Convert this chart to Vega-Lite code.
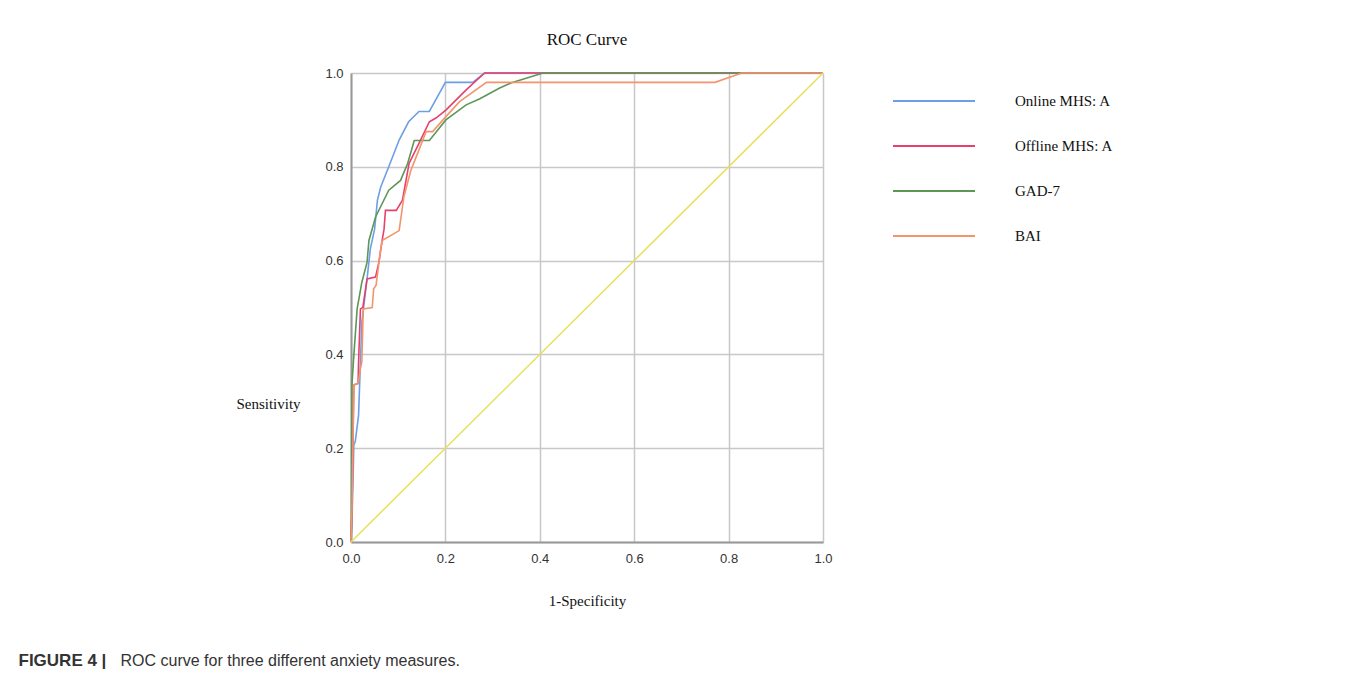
{
  "$schema": "https://vega.github.io/schema/vega-lite/v6.json",
  "width": 472,
  "height": 469,
  "autosize": {"type": "none"},
  "padding": {"left": 351, "top": 73, "right": 535, "bottom": 139},
  "background": "white",
  "title": {"text": "ROC Curve", "font": "Liberation Serif", "fontSize": 17, "fontWeight": "normal", "color": "#111", "anchor": "middle", "offset": 17, "dy": -1},
  "config": {
    "view": {"stroke": null},
    "axis": {"labelFont": "Liberation Sans", "labelFontSize": 13, "labelColor": "#333", "titleFont": "Liberation Serif", "titleFontSize": 15, "titleFontWeight": "normal", "titleColor": "#111", "gridColor": "#c8c8c8", "gridWidth": 1.5, "domainColor": "#999", "domainWidth": 2, "ticks": false, "labelOverlap": false, "labelFlush": false}
  },
  "resolve": {"axis": {"x": "independent", "y": "independent"}},
  "layer": [
    {
      "data": {"values": [
        {"series": "Online MHS: A", "i": 0, "x": 0, "y": 0},
        {"series": "Online MHS: A", "i": 1, "x": 0.002, "y": 0.044},
        {"series": "Online MHS: A", "i": 2, "x": 0.004, "y": 0.12},
        {"series": "Online MHS: A", "i": 3, "x": 0.006, "y": 0.207},
        {"series": "Online MHS: A", "i": 4, "x": 0.009, "y": 0.214},
        {"series": "Online MHS: A", "i": 5, "x": 0.016, "y": 0.27},
        {"series": "Online MHS: A", "i": 6, "x": 0.02, "y": 0.384},
        {"series": "Online MHS: A", "i": 7, "x": 0.023, "y": 0.469},
        {"series": "Online MHS: A", "i": 8, "x": 0.034, "y": 0.561},
        {"series": "Online MHS: A", "i": 9, "x": 0.041, "y": 0.625},
        {"series": "Online MHS: A", "i": 10, "x": 0.05, "y": 0.667},
        {"series": "Online MHS: A", "i": 11, "x": 0.056, "y": 0.729},
        {"series": "Online MHS: A", "i": 12, "x": 0.063, "y": 0.757},
        {"series": "Online MHS: A", "i": 13, "x": 0.08, "y": 0.8},
        {"series": "Online MHS: A", "i": 14, "x": 0.102, "y": 0.857},
        {"series": "Online MHS: A", "i": 15, "x": 0.122, "y": 0.896},
        {"series": "Online MHS: A", "i": 16, "x": 0.144, "y": 0.918},
        {"series": "Online MHS: A", "i": 17, "x": 0.166, "y": 0.918},
        {"series": "Online MHS: A", "i": 18, "x": 0.2, "y": 0.98},
        {"series": "Online MHS: A", "i": 19, "x": 0.258, "y": 0.98},
        {"series": "Online MHS: A", "i": 20, "x": 0.283, "y": 1.0},
        {"series": "Online MHS: A", "i": 21, "x": 1, "y": 1},
        {"series": "Offline MHS: A", "i": 0, "x": 0, "y": 0},
        {"series": "Offline MHS: A", "i": 1, "x": 0.002, "y": 0.066},
        {"series": "Offline MHS: A", "i": 2, "x": 0.004, "y": 0.2},
        {"series": "Offline MHS: A", "i": 3, "x": 0.006, "y": 0.335},
        {"series": "Offline MHS: A", "i": 4, "x": 0.015, "y": 0.338},
        {"series": "Offline MHS: A", "i": 5, "x": 0.016, "y": 0.384},
        {"series": "Offline MHS: A", "i": 6, "x": 0.02, "y": 0.497},
        {"series": "Offline MHS: A", "i": 7, "x": 0.025, "y": 0.5},
        {"series": "Offline MHS: A", "i": 8, "x": 0.034, "y": 0.561},
        {"series": "Offline MHS: A", "i": 9, "x": 0.052, "y": 0.565},
        {"series": "Offline MHS: A", "i": 10, "x": 0.059, "y": 0.596},
        {"series": "Offline MHS: A", "i": 11, "x": 0.066, "y": 0.643},
        {"series": "Offline MHS: A", "i": 12, "x": 0.07, "y": 0.667},
        {"series": "Offline MHS: A", "i": 13, "x": 0.073, "y": 0.707},
        {"series": "Offline MHS: A", "i": 14, "x": 0.096, "y": 0.707},
        {"series": "Offline MHS: A", "i": 15, "x": 0.109, "y": 0.729},
        {"series": "Offline MHS: A", "i": 16, "x": 0.123, "y": 0.807},
        {"series": "Offline MHS: A", "i": 17, "x": 0.144, "y": 0.85},
        {"series": "Offline MHS: A", "i": 18, "x": 0.166, "y": 0.896},
        {"series": "Offline MHS: A", "i": 19, "x": 0.18, "y": 0.904},
        {"series": "Offline MHS: A", "i": 20, "x": 0.201, "y": 0.921},
        {"series": "Offline MHS: A", "i": 21, "x": 0.244, "y": 0.964},
        {"series": "Offline MHS: A", "i": 22, "x": 0.283, "y": 1.0},
        {"series": "Offline MHS: A", "i": 23, "x": 1, "y": 1},
        {"series": "GAD-7", "i": 0, "x": 0, "y": 0},
        {"series": "GAD-7", "i": 1, "x": 0.001, "y": 0.044},
        {"series": "GAD-7", "i": 2, "x": 0.002, "y": 0.335},
        {"series": "GAD-7", "i": 3, "x": 0.006, "y": 0.398},
        {"series": "GAD-7", "i": 4, "x": 0.013, "y": 0.497},
        {"series": "GAD-7", "i": 5, "x": 0.023, "y": 0.554},
        {"series": "GAD-7", "i": 6, "x": 0.034, "y": 0.596},
        {"series": "GAD-7", "i": 7, "x": 0.038, "y": 0.643},
        {"series": "GAD-7", "i": 8, "x": 0.052, "y": 0.693},
        {"series": "GAD-7", "i": 9, "x": 0.08, "y": 0.75},
        {"series": "GAD-7", "i": 10, "x": 0.105, "y": 0.771},
        {"series": "GAD-7", "i": 11, "x": 0.12, "y": 0.807},
        {"series": "GAD-7", "i": 12, "x": 0.134, "y": 0.856},
        {"series": "GAD-7", "i": 13, "x": 0.166, "y": 0.856},
        {"series": "GAD-7", "i": 14, "x": 0.201, "y": 0.9},
        {"series": "GAD-7", "i": 15, "x": 0.244, "y": 0.932},
        {"series": "GAD-7", "i": 16, "x": 0.273, "y": 0.945},
        {"series": "GAD-7", "i": 17, "x": 0.315, "y": 0.968},
        {"series": "GAD-7", "i": 18, "x": 0.34, "y": 0.979},
        {"series": "GAD-7", "i": 19, "x": 0.407, "y": 1.0},
        {"series": "GAD-7", "i": 20, "x": 1, "y": 1},
        {"series": "BAI", "i": 0, "x": 0, "y": 0},
        {"series": "BAI", "i": 1, "x": 0.002, "y": 0.066},
        {"series": "BAI", "i": 2, "x": 0.004, "y": 0.2},
        {"series": "BAI", "i": 3, "x": 0.006, "y": 0.335},
        {"series": "BAI", "i": 4, "x": 0.015, "y": 0.338},
        {"series": "BAI", "i": 5, "x": 0.02, "y": 0.37},
        {"series": "BAI", "i": 6, "x": 0.023, "y": 0.384},
        {"series": "BAI", "i": 7, "x": 0.026, "y": 0.497},
        {"series": "BAI", "i": 8, "x": 0.045, "y": 0.5},
        {"series": "BAI", "i": 9, "x": 0.048, "y": 0.54},
        {"series": "BAI", "i": 10, "x": 0.053, "y": 0.547},
        {"series": "BAI", "i": 11, "x": 0.063, "y": 0.625},
        {"series": "BAI", "i": 12, "x": 0.066, "y": 0.643},
        {"series": "BAI", "i": 13, "x": 0.102, "y": 0.664},
        {"series": "BAI", "i": 14, "x": 0.112, "y": 0.736},
        {"series": "BAI", "i": 15, "x": 0.127, "y": 0.793},
        {"series": "BAI", "i": 16, "x": 0.144, "y": 0.836},
        {"series": "BAI", "i": 17, "x": 0.159, "y": 0.875},
        {"series": "BAI", "i": 18, "x": 0.173, "y": 0.875},
        {"series": "BAI", "i": 19, "x": 0.201, "y": 0.907},
        {"series": "BAI", "i": 20, "x": 0.23, "y": 0.939},
        {"series": "BAI", "i": 21, "x": 0.287, "y": 0.98},
        {"series": "BAI", "i": 22, "x": 0.771, "y": 0.98},
        {"series": "BAI", "i": 23, "x": 0.828, "y": 1.0},
        {"series": "BAI", "i": 24, "x": 1, "y": 1}
      ]},
      "mark": {"type": "line", "strokeWidth": 1.6},
      "encoding": {
        "x": {"field": "x", "type": "quantitative", "scale": {"domain": [0, 1]}, "axis": {"orient": "bottom", "grid": true, "title": "1-Specificity", "format": ".1f", "values": [0, 0.2, 0.4, 0.6, 0.8, 1.0], "labelPadding": 10, "titleBaseline": "middle", "titleY": 58}},
        "y": {"field": "y", "type": "quantitative", "scale": {"domain": [0, 1]}, "axis": {"orient": "left", "grid": true, "title": "Sensitivity", "format": ".1f", "values": [0, 0.2, 0.4, 0.6, 0.8, 1.0], "labelPadding": 8, "titleAngle": 0, "titleAlign": "center", "titleBaseline": "middle", "titleX": -83, "titleY": 330}},
        "color": {"field": "series", "type": "nominal", "scale": {"domain": ["Online MHS: A", "Offline MHS: A", "GAD-7", "BAI"], "range": ["#6d9fe4", "#e8406e", "#5e9658", "#f3946c"]}, "legend": {"orient": "none", "legendX": 541, "legendY": 10, "title": null, "symbolType": "stroke", "symbolSize": 6724, "symbolStrokeWidth": 2, "labelFont": "Liberation Serif", "labelFontSize": 15, "labelColor": "#111", "labelOffset": 39, "clipHeight": 36, "rowPadding": 9}},
        "order": {"field": "i", "type": "quantitative"}
      }
    },
    {
      "data": {"values": [{"x": 0, "y": 0}, {"x": 1, "y": 1}]},
      "mark": {"type": "line", "color": "#e8e05a", "strokeWidth": 1.5},
      "encoding": {
        "x": {"field": "x", "type": "quantitative", "scale": {"domain": [0, 1]}, "axis": {"orient": "top", "labels": false, "ticks": false, "domain": false, "grid": false, "title": "FIGURE 4 |", "titleFont": "Liberation Sans", "titleFontWeight": "bold", "titleFontSize": 17, "titleColor": "#333", "titleAlign": "left", "titleBaseline": "middle", "titleX": -333, "titleY": 587}},
        "y": {"field": "y", "type": "quantitative", "scale": {"domain": [0, 1]}, "axis": {"orient": "right", "labels": false, "ticks": false, "domain": false, "grid": false, "title": "ROC curve for three different anxiety measures.", "titleFont": "Liberation Sans", "titleFontSize": 16, "titleColor": "#333", "titleAngle": 0, "titleAlign": "left", "titleBaseline": "middle", "titleX": -703, "titleY": 587}}
      }
    }
  ]
}
